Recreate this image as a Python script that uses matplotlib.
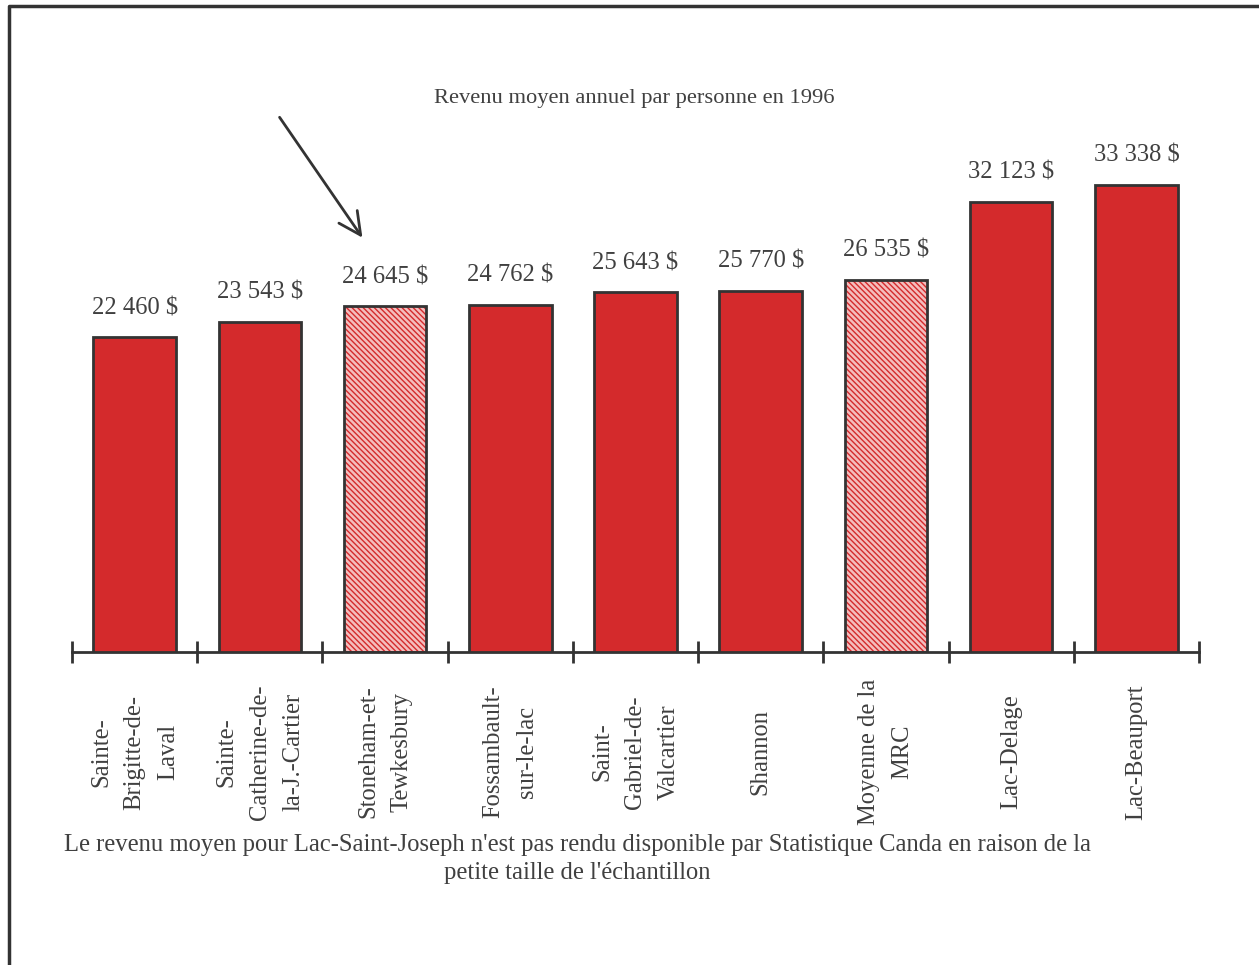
import matplotlib.pyplot as plt
from matplotlib.transforms import blended_transform_factory

# donnees
villes = ["Sainte-\nBrigitte-de-\nLaval", "Sainte-\nCatherine-de-\nla-J.-Cartier",
          "Stoneham-et-\nTewkesbury", "Fossambault-\nsur-le-lac", "Saint-\nGabriel-de-\nValcartier",
          "Shannon", "Moyenne de la\nMRC", "Lac-Delage", "Lac-Beauport"]
revenus = [22460, 23543, 24645, 24762, 25643, 25770, 26535, 32123, 33338]
etiquettes = ["22 460 $", "23 543 $", "24 645 $", "24 762 $", "25 643 $",
              "25 770 $", "26 535 $", "32 123 $", "33 338 $"]
hachures = [False, False, True, False, False, False, True, False, False]

titre = "Revenu moyen annuel par personne en 1996"
note = ("Le revenu moyen pour Lac-Saint-Joseph n'est pas rendu disponible par Statistique Canda en raison de la\n"
        "petite taille de l'échantillon")

W, H = 1259, 965
ROUGE = "#D42A2C"
GRIS = "#333333"
TEXTE = "#404040"

plt.rcParams['font.family'] = ['Liberation Serif', 'DejaVu Serif']

fig = plt.figure(figsize=(W / 100, H / 100), dpi=100)
# axes: base a y=652 px, echelle ~0.01402 px par dollar
haut_px = 60
ax = fig.add_axes([72 / W, (H - 652) / H, (1199 - 72) / W, (652 - haut_px) / H])
ax.set_xlim(0, 9)
ax.set_ylim(0, (652 - haut_px) / 0.01402)

for i, (v, h) in enumerate(zip(revenus, hachures)):
    if h:
        ax.bar(i + 0.5, v, width=0.66, color="#F4BDBD", edgecolor=ROUGE, hatch="\\\\\\\\\\\\",
               linewidth=0, zorder=2)
        ax.bar(i + 0.5, v, width=0.66, fill=False, edgecolor=GRIS, linewidth=2, zorder=3)
    else:
        ax.bar(i + 0.5, v, width=0.66, color=ROUGE, edgecolor=GRIS, linewidth=2, zorder=3)
    ax.annotate(etiquettes[i], (i + 0.5, v), xytext=(0, 13), textcoords="offset points",
                ha="center", va="bottom", fontsize=17.7, color=TEXTE)

for s in ["top", "right", "left"]:
    ax.spines[s].set_visible(False)
ax.spines["bottom"].set_color(GRIS)
ax.spines["bottom"].set_linewidth(2)
ax.set_yticks([])
ax.set_xticks(range(10))
ax.set_xticklabels([])
ax.tick_params(axis="x", direction="inout", length=16, width=2, color=GRIS)

trans = blended_transform_factory(ax.transData, fig.transFigure)
for i, nom in enumerate(villes):
    ax.text(i + 0.5, 1 - 752 / H, nom, transform=trans, rotation=90, ha="center", va="center",
            multialignment="center", fontsize=17.7, color=TEXTE, linespacing=1.66)

fig.text(634 / W, 1 - 98 / H, titre, ha="center", va="center", fontsize=16.2, color=TEXTE)
fig.text(577 / W, 1 - 859 / H, note, ha="center", va="center", fontsize=17.7, color=TEXTE,
         linespacing=1.34)

# fleche et cadre dans un axe pleine page en pixels
ax_f = fig.add_axes([0, 0, 1, 1], facecolor="none")
ax_f.set_xlim(0, W)
ax_f.set_ylim(H, 0)
ax_f.axis("off")
ax_f.annotate("", xy=(364, 240), xytext=(278, 115),
              arrowprops=dict(arrowstyle="->", color=GRIS, lw=2, mutation_scale=40))
ax_f.plot([9, 9, W + 5], [H + 5, 6, 6], color=GRIS, lw=2.5, clip_on=False)

fig.savefig("out.png", dpi=100)
